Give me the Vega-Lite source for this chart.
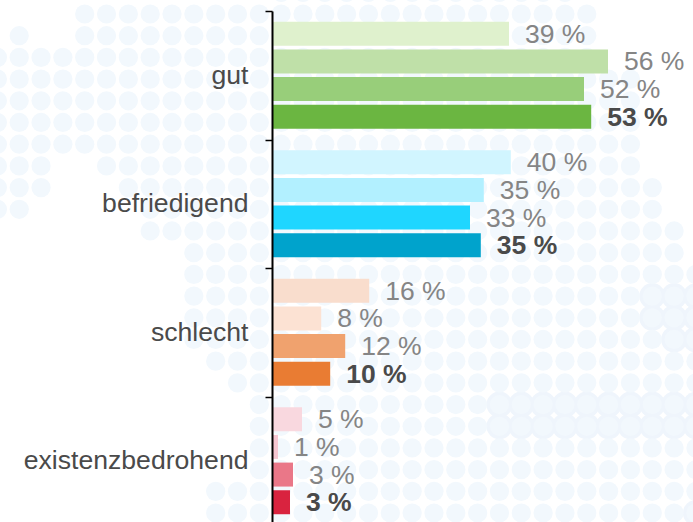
{
"$schema":"https://vega.github.io/schema/vega-lite/v6.json",
"width":420,"height":514,
"autosize":{"type":"none"},
"padding":{"left":272,"top":11,"right":1,"bottom":0},
"background":"#ffffff",
"config":{"view":{"stroke":null},"font":"Liberation Sans"},
"datasets":{
"bars":[
{"cat":"gut","w":1,"key":"g1","v":39.5,"label":"39 %"},
{"cat":"gut","w":2,"key":"g2","v":56,"label":"56 %"},
{"cat":"gut","w":3,"key":"g3","v":52,"label":"52 %"},
{"cat":"gut","w":4,"key":"g4","v":53.2,"label":"53 %"},
{"cat":"befriedigend","w":1,"key":"b1","v":39.8,"label":"40 %"},
{"cat":"befriedigend","w":2,"key":"b2","v":35.3,"label":"35 %"},
{"cat":"befriedigend","w":3,"key":"b3","v":33,"label":"33 %"},
{"cat":"befriedigend","w":4,"key":"b4","v":34.8,"label":"35 %"},
{"cat":"schlecht","w":1,"key":"s1","v":16.2,"label":"16 %"},
{"cat":"schlecht","w":2,"key":"s2","v":8.2,"label":"8 %"},
{"cat":"schlecht","w":3,"key":"s3","v":12.2,"label":"12 %"},
{"cat":"schlecht","w":4,"key":"s4","v":9.7,"label":"10 %"},
{"cat":"existenzbedrohend","w":1,"key":"e1","v":5,"label":"5 %"},
{"cat":"existenzbedrohend","w":2,"key":"e2","v":1,"label":"1 %"},
{"cat":"existenzbedrohend","w":3,"key":"e3","v":3.5,"label":"3 %"},
{"cat":"existenzbedrohend","w":4,"key":"e4","v":3,"label":"3 %"}
],
"dots":[
{"t":"b","r":13,"c":[29,30,31]},
{"t":"b","r":14,"c":[29,30,31]},
{"t":"b","r":15,"c":[30,31]},
{"t":"b","r":18,"c":[22,23,24,25,26,27,28,29,30,31]},
{"t":"b","r":19,"c":[22,23,24,25,26,27,28,29,30,31]},
{"t":"b","r":23,"c":[31]},
{"t":"a","r":-1,"c":[12,13,14,15,16,17,18,19,20,21,22,23,24,25]},
{"t":"a","r":0,"c":[3,4,5,6,7,8,9,10,11,12,13,14,15,16,17,18,19,20,21,22,23,24,25,26]},
{"t":"a","r":1,"c":[0,3,4,5,6,7,8,9,10,11,12,13,14,15,16,17,18,19,20,21,22,23,24,25,26]},
{"t":"a","r":2,"c":[-1,0,1,2,3,4,5,6,7,8,9,10,11,12,13,14,15,16,17,18,19,20,21,22,23,24,25,26]},
{"t":"a","r":3,"c":[-1,0,1,2,3,4,5,6,7,8,9,10,11,12,13,14,15,16,17,18,19,20,21,22,23,24,25,26,27,28]},
{"t":"a","r":4,"c":[-1,0,1,2,3,4,5,6,7,8,9,10,11,12,13,14,15,16,17,18,19,20,21,22,23,24,25,26,27,28]},
{"t":"a","r":5,"c":[-1,0,1,2,3,4,5,6,7,8,9,10,11,12,13,14,15,16,17,18,19,20,21,22,23,24,25,26,27,28]},
{"t":"a","r":6,"c":[-1,0,1,2,3,4,5,6,7,8,9,10,11,12,13,14,15,16,17,18,19,20,21,22,23,24,25,26,27,28]},
{"t":"a","r":7,"c":[-1,0,1,4,5,6,7,8,9,10,11,12,13,14,15,16,17,18,19,20,21,22,23,24,25,26,27,28]},
{"t":"a","r":8,"c":[-1,0,1,5,6,7,8,9,10,11,12,13,14,15,16,17,18,19,20,21,22,23,24,25,26,27,28,29]},
{"t":"a","r":9,"c":[-1,0,6,7,8,9,10,11,12,13,14,15,16,17,18,19,20,21,22,23,24,25,26,27,28,29]},
{"t":"a","r":10,"c":[6,7,8,9,10,11,12,13,14,15,16,17,18,19,20,21,22,23,24,25,26,27,28,29,30]},
{"t":"a","r":11,"c":[8,9,10,11,12,13,14,15,16,17,18,19,20,21,22,23,24,25,26,27,28,29,30]},
{"t":"a","r":12,"c":[8,9,10,11,12,13,14,15,16,17,18,19,20,21,22,23,24,25,26,27,28,29,30,31]},
{"t":"a","r":13,"c":[8,9,10,11,12,13,14,15,16,17,18,19,20,21,22,23,24,25,26,27,28,29,30,31]},
{"t":"a","r":14,"c":[8,9,10,11,12,13,14,15,16,17,18,19,20,21,22,23,24,25,26,27,28,29,30,31]},
{"t":"a","r":15,"c":[8,9,10,11,12,13,14,15,16,17,18,19,20,21,22,23,24,25,26,27,28,29,30,31]},
{"t":"a","r":16,"c":[9,10,11,12,13,14,15,16,17,18,19,20,21,22,23,24,25,26,27,28,29,30,31]},
{"t":"a","r":17,"c":[10,11,12,13,14,15,16,17,18,19,20,21,22,23,24,25,26,27,28,29,30,31]},
{"t":"a","r":18,"c":[11,12,13,14,15,16,17,18,19,20,21,22,23,24,25,26,27,28,29,30,31]},
{"t":"a","r":19,"c":[11,12,13,14,15,16,17,18,19,20,21,22,23,24,25,26,27,28,29,30,31]},
{"t":"a","r":20,"c":[11,12,13,14,15,16,17,18,19,20,21,22,23,24,25,26,27,28,29,30,31]},
{"t":"a","r":21,"c":[11,12,13,14,15,16,17,18,19,20,21,22,23,24,25,26,27,28,29,30,31]},
{"t":"a","r":22,"c":[9,10,11,12,13,14,15,16,17,18,19,20,21,22,23,24,25,26,27,28,29,30,31]},
{"t":"a","r":23,"c":[9,10,11,12,13,14,15,16,17,18,19,20,21,22,23,24,25,26,27,28,29,30,31]}
]
},
"resolve":{"scale":{"x":"independent","y":"independent","color":"independent","size":"independent"}},
"layer":[
{
"data":{"name":"dots"},
"transform":[{"flatten":["c"]}],
"mark":{"type":"point","shape":"circle","filled":true,"opacity":1,"clip":false},
"encoding":{
"x":{"field":"c","type":"quantitative","axis":null,"scale":{"domain":[11.58,30.82],"zero":false,"nice":false}},
"y":{"field":"r","type":"quantitative","axis":null,"scale":{"domain":[-0.138,23.55],"zero":false,"nice":false,"reverse":true}},
"color":{"field":"t","type":"nominal","legend":null,"scale":{"domain":["a","b"],"range":["#f2f8fd","#eff5fc"]}},
"size":{"field":"t","type":"nominal","legend":null,"scale":{"domain":["a","b"],"range":[370,676]}}
}
},
{
"data":{"name":"bars"},
"encoding":{
"y":{"field":"cat","type":"nominal","title":null,"sort":["gut","befriedigend","schlecht","existenzbedrohend"],
"scale":{"paddingInner":0,"paddingOuter":0},
"axis":{"zindex":1,"tickBand":"extent","domainColor":"#000000","domainWidth":2,"tickColor":"#000000","tickWidth":1.5,"tickSize":7,"labelFontSize":26.6,"labelColor":"#4a4a4a","labelPadding":17,"labelFont":"Liberation Sans","labelLimit":300,"grid":false}},
"yOffset":{"field":"w","type":"ordinal","scale":{"paddingInner":0.133,"paddingOuter":0.389}},
"x":{"field":"v","type":"quantitative","axis":null,"scale":{"domain":[0,70],"nice":false}}
},
"layer":[
{"mark":{"type":"bar"},
"encoding":{"color":{"field":"key","type":"nominal","legend":null,"scale":{
"domain":["g1","g2","g3","g4","b1","b2","b3","b4","s1","s2","s3","s4","e1","e2","e3","e4"],
"range":["#dff1cd","#bfe0a8","#98ce7a","#6bb641","#d1f5ff","#b2f0ff","#1fd6ff","#00a3cc","#f9ddcd","#fce2d3","#f0a26e","#e97c33","#f9d8df","#f6c6d1","#ea7788","#d9233f"]}}}},
{"transform":[{"filter":"datum.w < 4"}],
"mark":{"type":"text","align":"left","baseline":"middle","dx":16,"dy":1,"fontSize":26.5,"font":"Liberation Sans","color":"#858585"},
"encoding":{"text":{"field":"label"}}},
{"transform":[{"filter":"datum.w == 4"}],
"mark":{"type":"text","align":"left","baseline":"middle","dx":16,"dy":1,"fontSize":26.5,"fontWeight":"bold","font":"Liberation Sans","color":"#4a4a4a"},
"encoding":{"text":{"field":"label"}}}
]
}
]
}
